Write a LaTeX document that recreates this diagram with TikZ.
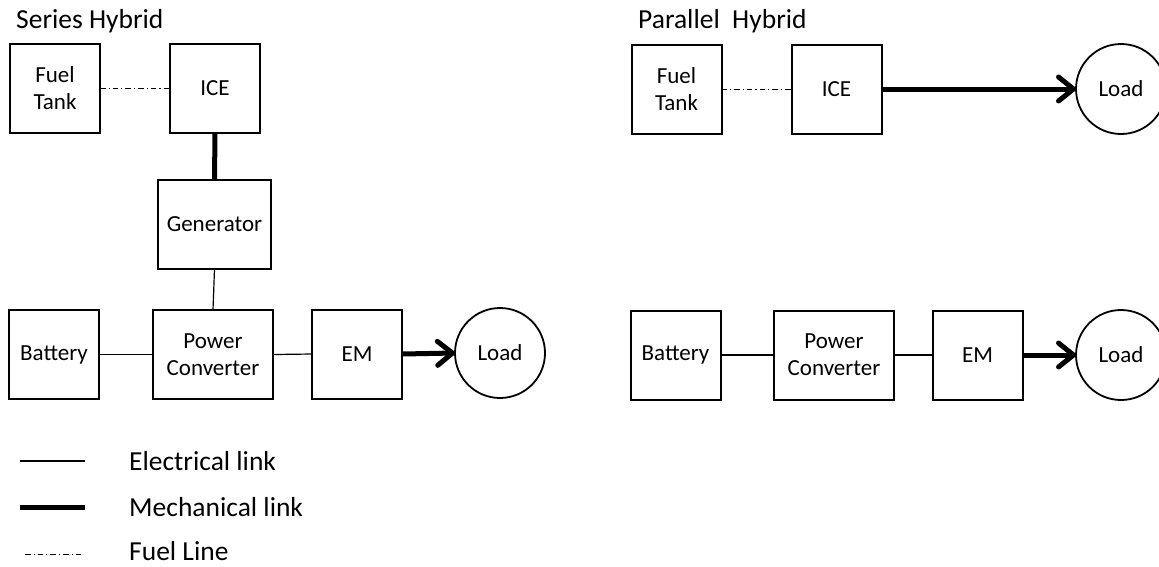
\documentclass[tikz,border=0pt]{standalone}
\usepackage{fontspec}
\setmainfont{Carlito}
\usetikzlibrary{arrows.meta}
\begin{document}
\begin{tikzpicture}[x=1pt,y=-1pt,
  every node/.style={font=\fontsize{23}{27}\selectfont, text=black},
  big/.style={font=\fontsize{27.5}{30}\selectfont},
  blk/.style={draw=black, line width=2pt, minimum width=90pt, minimum height=89pt, inner sep=0pt, outer sep=0pt, align=center},
  wide/.style={minimum width=113pt},
  pcw/.style={minimum width=120pt},
  ld/.style={draw=black, line width=1.8pt, circle, minimum size=90pt, inner sep=0pt, outer sep=0pt},
  elec/.style={draw=black, line width=1.2pt},
  mech/.style={draw=black, line width=5pt},
  mecharr/.style={draw=black, line width=5pt, -{Straight Barb[length=15pt, width=24pt, round]}},
  fuel/.style={draw=black, line width=0.9pt, dash pattern=on 5.5pt off 3pt on 1.2pt off 3pt},
  ttl/.style={anchor=base west, inner sep=0pt, big}
]
\useasboundingbox (0,0) rectangle (1159,566);
% ---------- Series hybrid ----------
\node[ttl] (t1) at (16,28) {Series Hybrid};
\node[blk] (ft1) at (55,88.5) {Fuel\\Tank};
\node[blk] (ice1) at (215,88.5) {ICE};
\node[blk,wide] (gen) at (214.5,224.5) {Generator};
\node[blk] (bat1) at (54,354.5) {Battery};
\node[blk,pcw] (pc1) at (213,354.5) {Power\\Converter};
\node[blk] (em1) at (357,354) {EM};
\node[ld] (load1) at (500,353) {Load};
\draw[fuel] (ft1.east) -- (ice1.west);
\draw[mech] (ice1.south) -- (gen.north);
\draw[elec] (gen.south) -- (pc1.north);
\draw[elec] (bat1.east) -- (pc1.west);
\draw[elec] (pc1.east) -- (em1.west);
\draw[mecharr] (em1.east) -- (load1.west);
% ---------- Parallel hybrid ----------
\node[ttl] (t2) at (638,28) {Parallel\ \ Hybrid};
\node[blk] (ft2) at (676.5,89) {Fuel\\Tank};
\node[blk] (ice2) at (836.5,89) {ICE};
\node[ld] (load2) at (1121,89) {Load};
\node[blk] (bat2) at (675.5,355) {Battery};
\node[blk,pcw] (pc2) at (834,355) {Power\\Converter};
\node[blk] (em2) at (977.5,355) {EM};
\node[ld] (load3) at (1121,355) {Load};
\draw[fuel] (ft2.east) -- (ice2.west);
\draw[mecharr] (ice2.east) -- (load2.west);
\draw[elec] (bat2.east) -- (pc2.west);
\draw[elec] (pc2.east) -- (em2.west);
\draw[mecharr] (em2.east) -- (load3.west);
% ---------- Legend ----------
\coordinate (la1) at (20,461); \coordinate (lb1) at (85,461);
\coordinate (la2) at (20,507); \coordinate (lb2) at (85,507);
\coordinate (la3) at (25,554); \coordinate (lb3) at (84,554);
\draw[elec] (la1) -- (lb1);
\draw[mech] (la2) -- (lb2);
\draw[fuel] (la3) -- (lb3);
\node[anchor=base west, inner sep=0pt, big] (e1) at (129,470) {Electrical link};
\node[anchor=base west, inner sep=0pt, big] (e2) at (129,516) {Mechanical link};
\node[anchor=base west, inner sep=0pt, big] (e3) at (129,560) {Fuel Line};
\end{tikzpicture}
\end{document}
